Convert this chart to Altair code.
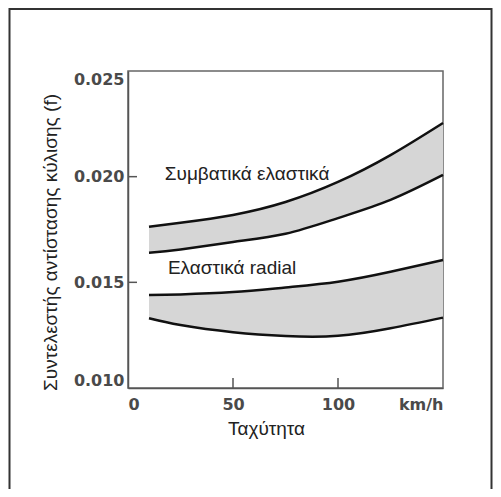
import altair as alt
import pandas as pd

# ---- data ----
speed = [10, 25, 50, 75, 100, 125, 150]
conv_upper = [0.01763, 0.01782, 0.01819, 0.01880, 0.01975, 0.02102, 0.02254]
conv_lower = [0.01640, 0.01655, 0.01691, 0.01730, 0.01804, 0.01890, 0.02008]
radial_upper = [0.01440, 0.01443, 0.01454, 0.01476, 0.01503, 0.01550, 0.01606]
radial_lower = [0.01330, 0.01298, 0.01264, 0.01246, 0.01247, 0.01283, 0.01333]

x_ticks = [0, 50, 100, 150]
y_ticks = [0.010, 0.015, 0.020, 0.025]
inner_x_ticks = [50, 100]
inner_y_ticks = [0.015, 0.020]

label_text = ["Συμβατικά ελαστικά", "Ελαστικά radial"]
label_x = [17.5, 19]
label_y = [0.02013, 0.01568]

W, H = 315, 317

bands = pd.concat([
    pd.DataFrame({"speed": speed, "top": conv_upper, "bottom": conv_lower, "band": "conv"}),
    pd.DataFrame({"speed": speed, "top": radial_upper, "bottom": radial_lower, "band": "radial"}),
])
lines = pd.concat([
    pd.DataFrame({"speed": speed, "f": v, "series": n})
    for n, v in [("cu", conv_upper), ("cl", conv_lower), ("ru", radial_upper), ("rl", radial_lower)]
])
labels = pd.DataFrame({"speed": label_x, "f": label_y, "text": label_text})

xscale = alt.Scale(domain=[0, 150], nice=False, zero=False)
yscale = alt.Scale(domain=[0.010, 0.025], nice=False, zero=False)

xaxis = alt.Axis(
    title="Ταχύτητα", values=x_ticks, labelExpr="datum.value == 150 ? 'km/h' : datum.label",
    labelFlush=True, ticks=False, grid=False, labelPadding=8,
    labelFont="DejaVu Sans", labelFontWeight="bold", labelFontSize=16, labelColor="#4a4a4a",
    domainColor="#555", domainWidth=1.5,
    titleFont="Liberation Sans", titleFontSize=19, titleFontWeight="normal", titleColor="#222",
    titleX=138, titleY=40, titleBaseline="middle", titleAlign="center",
)
yaxis = alt.Axis(
    title="Συντελεστής αντίστασης κύλισης (f)", values=y_ticks, format=".3f",
    labelFlush=True, ticks=False, grid=False, labelPadding=4,
    labelFont="DejaVu Sans", labelFontWeight="bold", labelFontSize=16, labelColor="#4a4a4a",
    domainColor="#555", domainWidth=1.5,
    titleFont="Liberation Sans", titleFontSize=19, titleFontWeight="normal", titleColor="#222",
    titleX=-78, titleY=171, titleBaseline="middle", titleAlign="center", titleAngle=-90,
)

def X(field):
    return alt.X(field, type="quantitative", scale=xscale, axis=xaxis)

def Y(field):
    return alt.Y(field, type="quantitative", scale=yscale, axis=yaxis)

area = alt.Chart(bands).mark_area(interpolate="natural", color="#d6d6d6", opacity=1).encode(
    x=X("speed"), y=Y("top"), y2="bottom", detail="band"
)
line = alt.Chart(lines).mark_line(interpolate="natural", color="#111", strokeWidth=2.5).encode(
    x=X("speed"), y=Y("f"), detail="series"
)
text = alt.Chart(labels).mark_text(
    align="left", baseline="middle", font="Liberation Sans", fontSize=19, color="#222"
).encode(x=X("speed"), y=Y("f"), text="text")

ytick = alt.Chart(pd.DataFrame({"f": inner_y_ticks})).mark_rule(color="#555", strokeWidth=1.5).encode(
    y=Y("f"), x=alt.value(0), x2=alt.value(9)
)
xtick = alt.Chart(pd.DataFrame({"speed": inner_x_ticks})).mark_rule(color="#555", strokeWidth=1.5).encode(
    x=X("speed"), y=alt.value(H), y2=alt.value(H - 10)
)
frame = alt.Chart(pd.DataFrame({"a": [0]})).mark_rect(
    fillOpacity=0, stroke="#333", strokeWidth=2
).encode(
    x=alt.value(-118.5), x2=alt.value(363.5), y=alt.value(-62), y2=alt.value(460)
)

chart = alt.layer(area, line, text, ytick, xtick, frame).properties(
    width=W, height=H,
    autosize=alt.AutoSizeParams(type="none"),
    padding={"left": 120, "top": 63, "right": 50, "bottom": 101},
    background="white",
).configure_view(stroke="#666", strokeWidth=1.5)

chart.save("out.html", embed_options={"renderer": "svg", "actions": False})
